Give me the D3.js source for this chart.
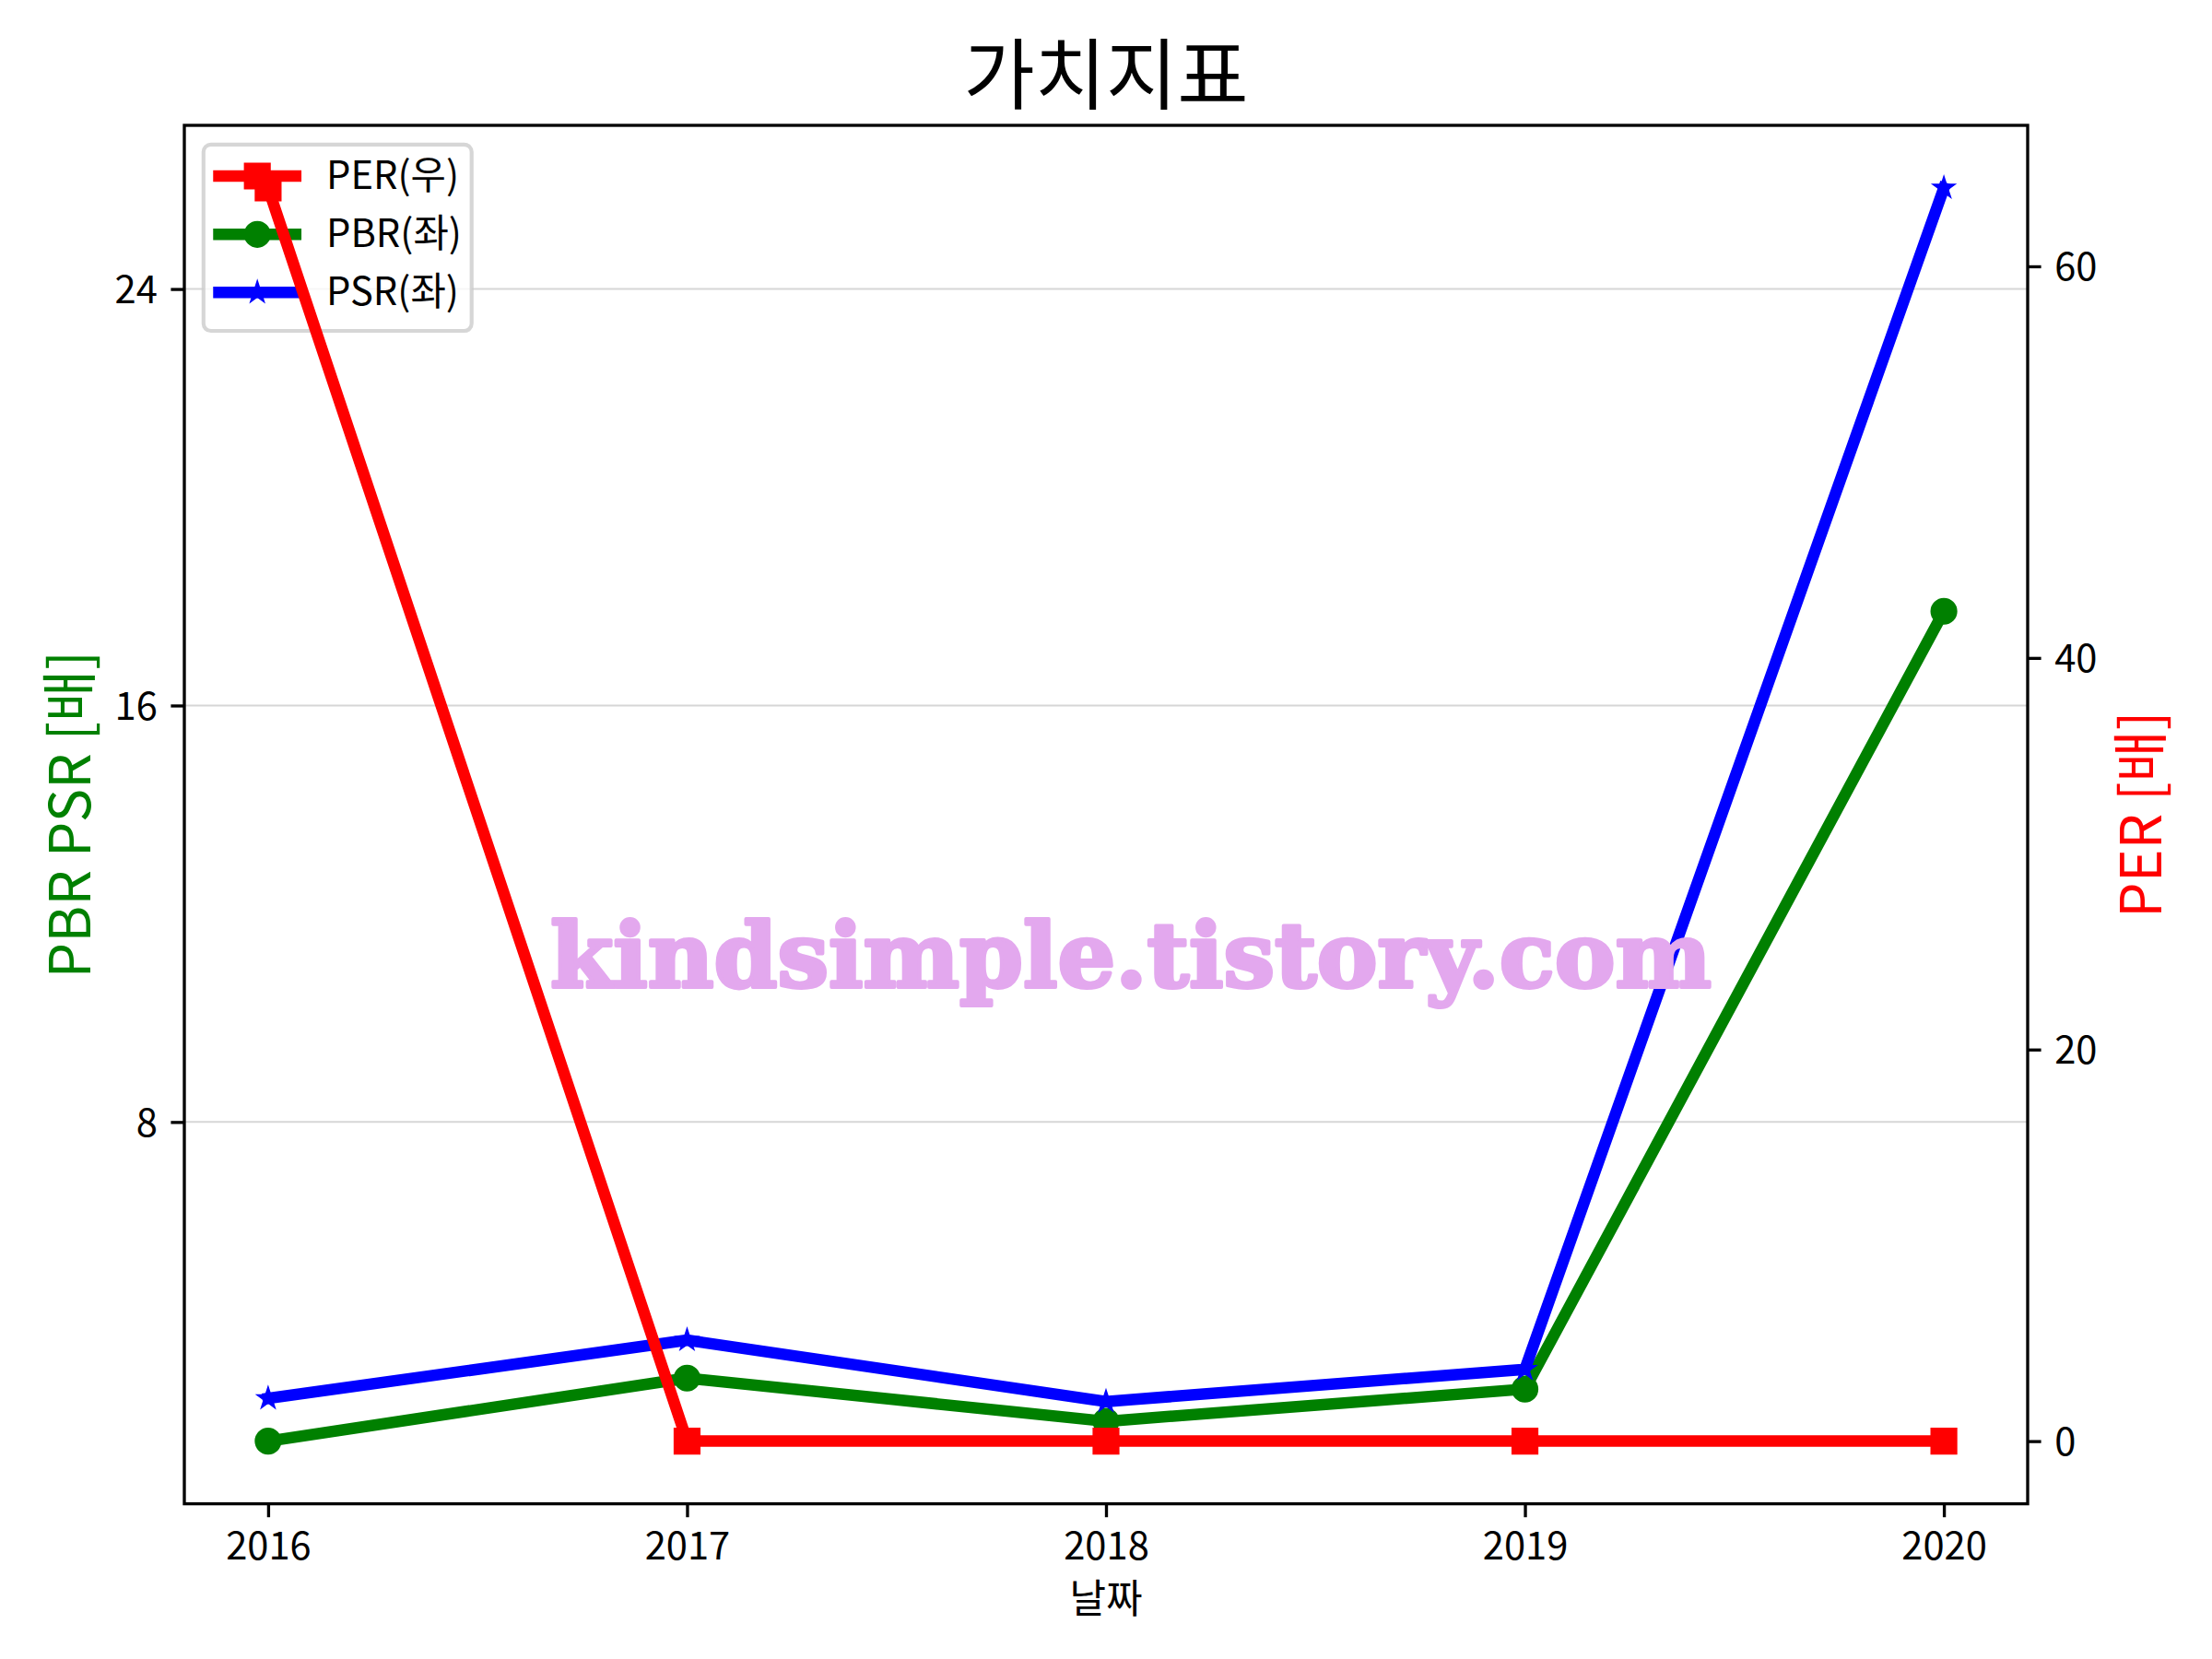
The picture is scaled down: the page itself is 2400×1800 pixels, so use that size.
<!DOCTYPE html>
<html>
<head>
<meta charset="utf-8">
<script src="https://cdn.jsdelivr.net/npm/d3@7"></script>
<style>
  html, body { margin: 0; padding: 0; background: #ffffff; }
  svg { display: block; }
</style>
</head>
<body>
<script>
// ---------------- data ----------------
const years = [2016, 2017, 2018, 2019, 2020];
const perValues = [64.0, 0, 0, 0, 0];
const pbrValues = [1.87, 3.08, 2.25, 2.87, 17.81];
const psrValues = [2.69, 3.81, 2.63, 3.25, 25.94];
const leftTicks = [8, 16, 24];
const rightTicks = [0, 20, 40, 60];
const xTickLabels = ["2016", "2017", "2018", "2019", "2020"];
const seriesNames = ["PER(우)", "PBR(좌)", "PSR(좌)"];
const titleText = "가치지표";
const xLabelText = "날짜";
const leftLabelText = "PBR PSR [배]";
const rightLabelText = "PER [배]";
const watermarkText = "kindsimple.tistory.com";

// ---------------- layout ----------------
const W = 2400, H = 1800;
const L = 200, R = 2200, T = 136, B = 1631.6;
const FONT = "'Noto Sans CJK KR', 'Noto Sans', sans-serif";
const tickLen = 14.6, tickPad = 14.6, spineW = 3.33;
const lw = 12.5;

function padded(vals) {
  const lo = d3.min(vals), hi = d3.max(vals), m = (hi - lo) * 0.05;
  return [lo - m, hi + m];
}

const x = d3.scaleLinear().domain(padded(years)).range([L, R]);
const yL = d3.scaleLinear().domain(padded(pbrValues.concat(psrValues))).range([B, T]);
const yR = d3.scaleLinear().domain(padded(perValues)).range([B, T]);

const svg = d3.select("body").append("svg")
  .attr("width", W).attr("height", H)
  .attr("xmlns", "http://www.w3.org/2000/svg");
svg.append("rect").attr("width", W).attr("height", H).attr("fill", "#ffffff");

// grid (left axis)
svg.append("g").selectAll("line").data(leftTicks).join("line")
  .attr("x1", L).attr("x2", R)
  .attr("y1", d => yL(d)).attr("y2", d => yL(d))
  .attr("stroke", "#d6d6d6").attr("stroke-width", 2);

function drawSeries(g, values, yScale, color, marker) {
  const line = d3.line().x((d, i) => x(years[i])).y(d => yScale(d));
  g.append("path").datum(values)
    .attr("d", line)
    .attr("fill", "none").attr("stroke", color)
    .attr("stroke-width", lw)
    .attr("stroke-linejoin", "round")
    .attr("stroke-linecap", "square");
  g.selectAll(null).data(values).join("path")
    .attr("transform", (d, i) => `translate(${x(years[i])},${yScale(d)})`)
    .attr("d", markerPath(marker))
    .attr("fill", color).attr("stroke", color)
    .attr("stroke-width", marker === "star" ? 1.5 : 4.17)
    .attr("stroke-linejoin", "miter");
}
function markerPath(marker) {
  if (marker === "circle") return d3.symbol(d3.symbolCircle, Math.PI * 12.5 * 12.5)();
  if (marker === "square") return d3.symbol(d3.symbolSquare, 25 * 25)();
  return d3.symbol(d3.symbolStar, (12.5 * 12.5) / 0.8908130915292852)();
}

const gLeftLines = svg.append("g");
drawSeries(gLeftLines, pbrValues, yL, "#008000", "circle");
drawSeries(gLeftLines, psrValues, yL, "#0000ff", "star");

// axes
function styleAxis(g) {
  g.select(".domain").remove();
  g.selectAll(".tick line").attr("stroke", "#000").attr("stroke-width", spineW);
  g.selectAll(".tick text").attr("fill", "#000")
    .style("font-family", FONT).style("font-size", "41.7px");
}
const gx = svg.append("g").attr("transform", `translate(0,${B})`)
  .call(d3.axisBottom(x).tickValues(years).tickFormat((d, i) => xTickLabels[i])
    .tickSize(tickLen).tickSizeOuter(0).tickPadding(tickPad));
styleAxis(gx);
gx.selectAll(".tick text").attr("dy", "0.76em");

const gyL = svg.append("g").attr("transform", `translate(${L},0)`)
  .call(d3.axisLeft(yL).tickValues(leftTicks).tickFormat(d3.format("d"))
    .tickSize(tickLen).tickSizeOuter(0).tickPadding(tickPad));
styleAxis(gyL);
gyL.selectAll(".tick text").attr("dy", "0.36em");

// legend
const lg = svg.append("g");
lg.append("rect").attr("x", 220.8).attr("y", 156.8).attr("width", 290.9).attr("height", 202.2)
  .attr("rx", 8).attr("ry", 8)
  .attr("fill", "#ffffff").attr("fill-opacity", 0.8)
  .attr("stroke", "#cccccc").attr("stroke-opacity", 0.8).attr("stroke-width", 4.17);
const legendRows = [
  { name: seriesNames[0], color: "#ff0000", marker: "square", y: 191 },
  { name: seriesNames[1], color: "#008000", marker: "circle", y: 254.3 },
  { name: seriesNames[2], color: "#0000ff", marker: "star", y: 317.3 }
];
legendRows.forEach(r => {
  lg.append("line").attr("x1", 237.5).attr("x2", 320.8).attr("y1", r.y).attr("y2", r.y)
    .attr("stroke", r.color).attr("stroke-width", lw).attr("stroke-linecap", "square");
  lg.append("path").attr("transform", `translate(279.2,${r.y})`)
    .attr("d", markerPath(r.marker))
    .attr("fill", r.color).attr("stroke", r.color)
    .attr("stroke-width", r.marker === "star" ? 1.5 : 4.17);
  lg.append("text").attr("x", 354.1).attr("y", r.y + 14)
    .style("font-family", FONT).style("font-size", "41.7px").attr("fill", "#000")
    .text(r.name);
});

// right axis series
const gRight = svg.append("g");
drawSeries(gRight, perValues, yR, "#ff0000", "square");

const gyR = svg.append("g").attr("transform", `translate(${R},0)`)
  .call(d3.axisRight(yR).tickValues(rightTicks).tickFormat(d3.format("d"))
    .tickSize(tickLen).tickSizeOuter(0).tickPadding(tickPad));
styleAxis(gyR);
gyR.selectAll(".tick text").attr("dy", "0.36em");

// spines
svg.append("rect").attr("x", L).attr("y", T).attr("width", R - L).attr("height", B - T)
  .attr("fill", "none").attr("stroke", "#000").attr("stroke-width", spineW);

// watermark
svg.append("text")
  .attr("x", 597).attr("y", 1071)
  .attr("textLength", 1260).attr("lengthAdjust", "spacingAndGlyphs")
  .style("font-family", "'DejaVu Serif', serif").style("font-weight", "bold")
  .style("font-size", "98px")
  .attr("fill", "#e3a8ee").attr("stroke", "#e3a8ee").attr("stroke-width", 4)
  .attr("stroke-linejoin", "round")
  .text(watermarkText);

// title and labels
svg.append("text").attr("x", 1200).attr("y", 112).attr("text-anchor", "middle")
  .style("font-family", FONT).style("font-size", "84px").attr("fill", "#000")
  .text(titleText);

svg.append("text").attr("x", 1200).attr("y", 1750).attr("text-anchor", "middle")
  .style("font-family", FONT).style("font-size", "43px").attr("fill", "#000")
  .text(xLabelText);

const midY = (T + B) / 2;
svg.append("text")
  .attr("transform", `translate(71,${midY}) rotate(-90)`)
  .attr("text-anchor", "middle").attr("dominant-baseline", "central")
  .style("font-family", FONT).style("font-size", "61px").attr("fill", "#008000")
  .text(leftLabelText);

svg.append("text")
  .attr("transform", `translate(2318,${midY}) rotate(-90)`)
  .attr("text-anchor", "middle").attr("dominant-baseline", "central")
  .style("font-family", FONT).style("font-size", "61px").attr("fill", "#ff0000")
  .text(rightLabelText);
</script>
</body>
</html>
